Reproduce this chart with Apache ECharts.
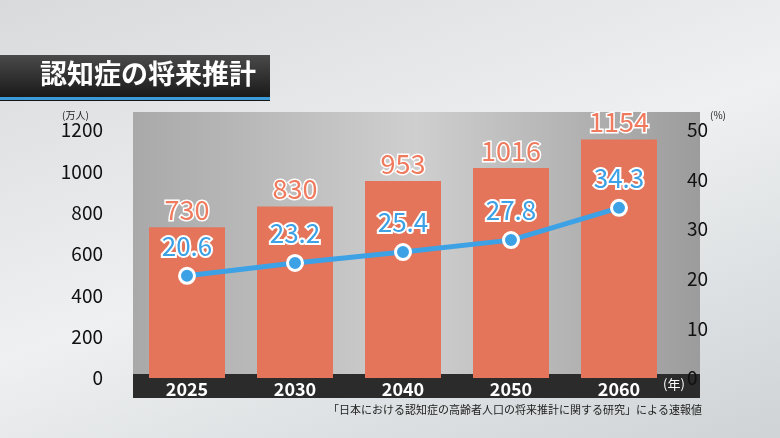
<!DOCTYPE html>
<html><head><meta charset="utf-8">
<script src="https://cdn.jsdelivr.net/npm/echarts@6/dist/echarts.min.js"></script>
<style>
html,body{margin:0;padding:0;}
#chart{width:780px;height:438px;background:linear-gradient(160deg,#d8dadc 0%,#eef0f1 50%,#cfd3d6 100%);}
</style>
</head><body>
<div id="chart"></div>
<script>
var years = ['2025', '2030', '2040', '2050', '2060'];
var patients = [730, 830, 953, 1016, 1154];
var rates = [20.6, 23.2, 25.4, 27.8, 34.3];
var leftTicks = [0, 200, 400, 600, 800, 1000, 1200];
var rightTicks = [0, 10, 20, 30, 40, 50];

var myChart = echarts.init(document.getElementById('chart'));
var font = '"Noto Sans CJK JP", "Noto Sans", sans-serif';
var option = {
    textStyle: { fontFamily: font },
    graphic: [
        { type: 'rect', shape: { x: 0, y: 55, width: 270, height: 46 },
          style: { fill: new echarts.graphic.LinearGradient(0, 0, 0, 1, [{ offset: 0, color: '#4a4a4a' }, { offset: 1, color: '#151515' }]) } },
        { type: 'rect', shape: { x: 0, y: 97, width: 270, height: 3 }, style: { fill: '#3a9bd8' } },
        { type: 'text', left: 40, top: 60, style: { text: '認知症の将来推計', fill: '#fff', font: 'bold 27px ' + font } },
        { type: 'rect', shape: { x: 133, y: 112, width: 567, height: 266 },
          style: { fill: new echarts.graphic.LinearGradient(0, 0, 1, 0, [{ offset: 0, color: '#a9a9a9' }, { offset: 0.5, color: '#cfcfcf' }, { offset: 1, color: '#9c9c9c' }]) }, z: -1 },
        { type: 'rect', shape: { x: 133, y: 374, width: 567, height: 24 }, style: { fill: '#2b2b2b' }, z: -1 },
        { type: 'text', left: 62, top: 110, style: { text: '(万人)', fill: '#222', font: '10px ' + font } },
        { type: 'text', left: 710, top: 110, style: { text: '(%)', fill: '#222', font: '10px ' + font } },
        { type: 'text', left: 663, top: 378, style: { text: '(年)', fill: '#fff', font: '13px ' + font } },
        { type: 'text', right: 78, top: 404, style: { text: '「日本における認知症の高齢者人口の将来推計に関する研究」による速報値', fill: '#222', font: '11px ' + font } }
    ],
    grid: { left: 133, right: 107, top: 130, bottom: 60 },
    xAxis: {
        type: 'category', data: years,
        axisLine: { show: false }, axisTick: { show: false },
        axisLabel: { color: '#fff', fontSize: 18, fontWeight: 'bold', margin: 2, lineHeight: 18 }
    },
    yAxis: [
        { type: 'value', min: 0, max: 1200, interval: 200,
          axisLabel: { color: '#111', fontSize: 19, margin: 30, formatter: function (v) { return String(v); } },
          splitLine: { show: false } },
        { type: 'value', min: 0, max: 50, interval: 10,
          axisLabel: { color: '#111', fontSize: 19, margin: 14 },
          splitLine: { show: false } }
    ],
    series: [
        { type: 'bar', data: patients, barWidth: 76,
          itemStyle: { color: '#e4755b' },
          label: { show: true, position: 'top', distance: 4, color: '#f07a5e', fontSize: 27,
                   textBorderColor: '#fff', textBorderWidth: 3 } },
        { type: 'line', yAxisIndex: 1, data: rates, symbol: 'circle', symbolSize: 15,
          lineStyle: { color: '#3da1e6', width: 5 },
          itemStyle: { color: '#3da1e6', borderColor: '#fff', borderWidth: 3 },
          label: { show: true, position: 'top', distance: 8, color: '#3da1e6', fontSize: 26,
                   textBorderColor: '#fff', textBorderWidth: 4 } }
    ]
};
myChart.setOption(option);
</script>
</body></html>
